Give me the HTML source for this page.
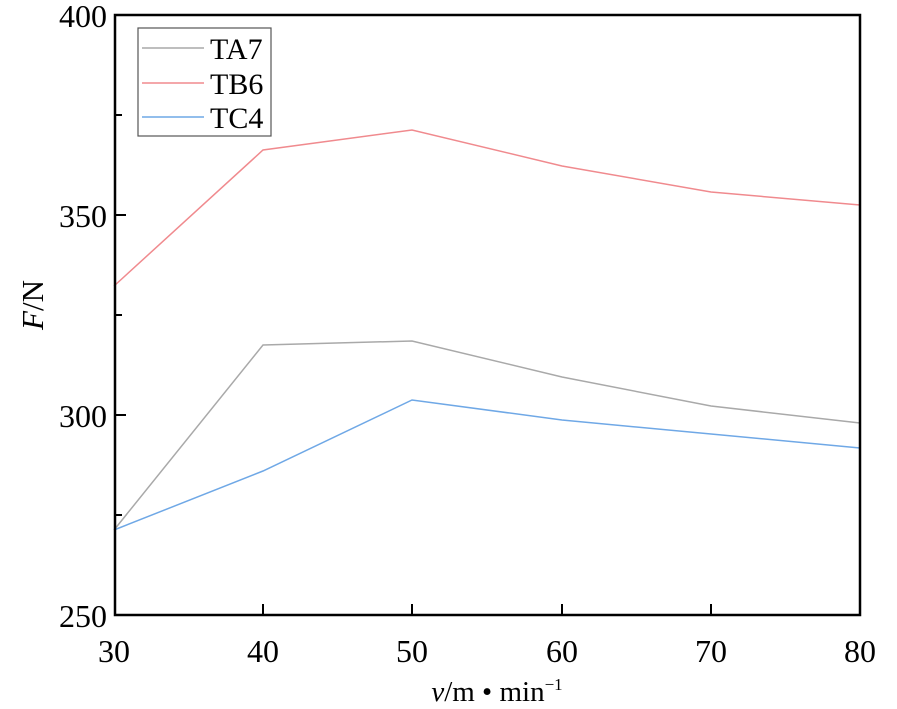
<!DOCTYPE html>
<html><head><meta charset="utf-8"><style>body{margin:0;background:#fff}svg{display:block}</style></head>
<body>
<svg width="897" height="709" viewBox="0 0 897 709" xmlns="http://www.w3.org/2000/svg" font-family="Liberation Serif, serif" fill="#000">
<rect x="0" y="0" width="897" height="709" fill="#fff"/>
<g stroke-width="1.5" fill="none">
<polyline stroke="#f08a8e" points="114,286 263,150 412,130 562,166 711,192 860,205"/>
<polyline stroke="#a9a9a9" points="114,530 263,345 412,341 562,377 711,406 860,423"/>
<polyline stroke="#6fa8e6" points="114,530 263,471 412,400 562,420 711,434 860,448"/>
</g>
<rect x="115" y="15" width="745" height="600" fill="none" stroke="#000" stroke-width="2.5"/>
<g stroke="#000" stroke-width="2">
<line x1="115" y1="115" x2="122" y2="115"/>
<line x1="115" y1="215" x2="126" y2="215"/>
<line x1="115" y1="315" x2="122" y2="315"/>
<line x1="115" y1="415" x2="126" y2="415"/>
<line x1="115" y1="515" x2="122" y2="515"/>
<line x1="263" y1="615" x2="263" y2="604"/>
<line x1="412" y1="615" x2="412" y2="604"/>
<line x1="562" y1="615" x2="562" y2="604"/>
<line x1="711" y1="615" x2="711" y2="604"/>
</g>
<g font-size="32" text-anchor="end">
<text x="107" y="27">400</text>
<text x="107" y="227">350</text>
<text x="107" y="427">300</text>
<text x="107" y="627">250</text>
</g>
<g font-size="32" text-anchor="middle">
<text x="114" y="662">30</text>
<text x="263" y="662">40</text>
<text x="412" y="662">50</text>
<text x="562" y="662">60</text>
<text x="711" y="662">70</text>
<text x="860" y="662">80</text>
</g>
<text x="497" y="701" font-size="29" text-anchor="middle"><tspan font-style="italic">v</tspan>/m • min<tspan font-size="17" dy="-11">−1</tspan></text>
<text transform="translate(43,305) rotate(-90)" font-size="31" text-anchor="middle"><tspan font-style="italic">F</tspan>/N</text>
<rect x="138" y="28" width="133" height="108" fill="#fff" stroke="#555" stroke-width="1.2"/>
<g stroke-width="1.5">
<line x1="142" y1="48" x2="204" y2="48" stroke="#a9a9a9"/>
<line x1="142" y1="83" x2="204" y2="83" stroke="#f08a8e"/>
<line x1="142" y1="117" x2="204" y2="117" stroke="#6fa8e6"/>
</g>
<g font-size="30">
<text x="210" y="59">TA7</text>
<text x="210" y="94">TB6</text>
<text x="210" y="128">TC4</text>
</g>
</svg>
</body></html>
